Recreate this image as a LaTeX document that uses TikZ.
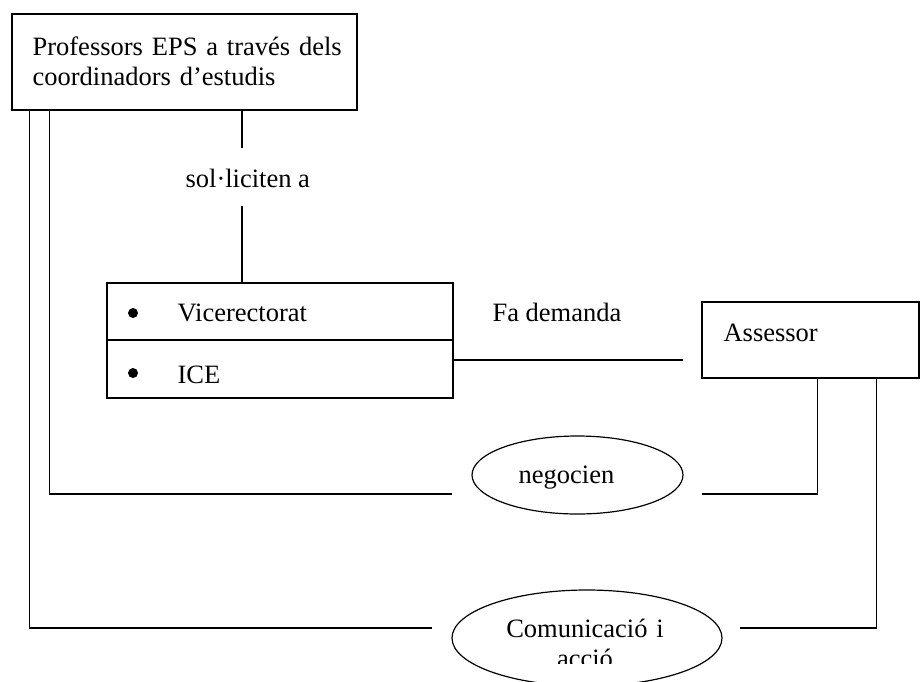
\documentclass[tikz,border=0pt]{standalone}
\usepackage{fontspec}
\setmainfont{Liberation Serif}
\usetikzlibrary{shapes.geometric}
\begin{document}
\begin{tikzpicture}[x=1pt,y=-1pt,line width=1.2pt,
  box/.style={draw,rectangle,inner sep=0pt},
  oval/.style={draw,ellipse,inner sep=0pt},
  dot/.style={circle,fill,inner sep=0pt,minimum size=10pt},
  lbl/.style={inner sep=0pt,anchor=base west,font=\fontsize{26.5}{30.5}\selectfont},
  link/.style={draw,line width=1.2pt}]
\useasboundingbox (0,0) rectangle (920,681);
\clip (0,0) rectangle (920,681);

% teachers box
\node[box,minimum width=345pt,minimum height=96pt] (prof) at (184.5,62) {};
\node[lbl,text width=320pt,align=left] (proftext) at (32,55)
  {Professors EPS a través dels\\coordinadors d’estudis};

% request label between the teachers and the vice-rectorate
\coordinate (s1) at (242,148);
\coordinate (s2) at (242,206);
\node[lbl] (sol) at (185,187) {sol·liciten a};

% vice-rectorate / ICE box
\node[box,minimum width=346pt,minimum height=57pt] (vice) at (280,311.5) {};
\node[box,minimum width=346pt,minimum height=58pt] (ice) at (280,369) {};
\node[dot] (b1) at (133,313) {};
\node[lbl] (vtext) at (177,321) {Vicerectorat};
\node[dot] (b2) at (133,373) {};
\node[lbl] (itext) at (177,383) {ICE};

% adviser box
\node[box,minimum width=217pt,minimum height=76pt] (ass) at (810.5,340) {};
\node[lbl] (asstext) at (723,341) {Assessor};
\node[lbl] (fa) at (492,321) {Fa demanda};
\coordinate (fd) at (683,360);

% negotiation
\node[oval,minimum width=211pt,minimum height=78pt] (neg) at (577.5,475) {};
\node[lbl] (negtext) at (518,483) {negocien};
\coordinate (nl) at (452,494);
\coordinate (nr) at (702,494);

% communication and action
\node[oval,minimum width=270pt,minimum height=96pt] (com) at (587,638) {};
\begin{scope}
  \clip (440,585) rectangle (740,663);
  \node[lbl,anchor=base,text width=220pt,align=center] (comtext) at (585,637)
    {Comunicació i\\acció};
\end{scope}
\coordinate (cl) at (432,628);
\coordinate (cr) at (740,628);

% connectors
\path[link] (prof.south -| s1) -- (s1);
\path[link] (s2) -- (s2 |- vice.north);
\path[link] (ice.east |- fd) -- (fd);
\path[link] ([xshift=38pt]prof.south west) |- (nl);
\path[link] (nr) -| ([xshift=116pt]ass.south west);
\path[link] ([xshift=18pt]prof.south west) |- (cl);
\path[link] (cr) -| ([xshift=175pt]ass.south west);
\end{tikzpicture}
\end{document}
